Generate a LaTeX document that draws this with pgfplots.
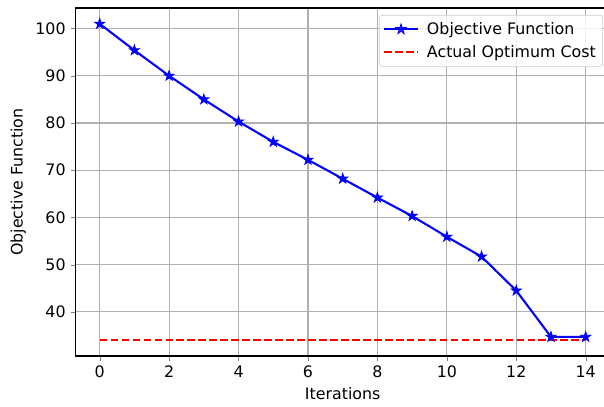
\documentclass[border=0pt]{standalone}
\usepackage{pgfplots}
\pgfplotsset{compat=1.18}
\usepackage{fontspec}
\setmainfont{DejaVu Sans}
\pgfdeclareplotmark{fstar}{%
  \pgfpathmoveto{\pgfpointpolar{90}{\pgfplotmarksize}}%
  \pgfpathlineto{\pgfpointpolar{126}{0.382\pgfplotmarksize}}%
  \pgfpathlineto{\pgfpointpolar{162}{\pgfplotmarksize}}%
  \pgfpathlineto{\pgfpointpolar{198}{0.382\pgfplotmarksize}}%
  \pgfpathlineto{\pgfpointpolar{234}{\pgfplotmarksize}}%
  \pgfpathlineto{\pgfpointpolar{270}{0.382\pgfplotmarksize}}%
  \pgfpathlineto{\pgfpointpolar{306}{\pgfplotmarksize}}%
  \pgfpathlineto{\pgfpointpolar{342}{0.382\pgfplotmarksize}}%
  \pgfpathlineto{\pgfpointpolar{18}{\pgfplotmarksize}}%
  \pgfpathlineto{\pgfpointpolar{54}{0.382\pgfplotmarksize}}%
  \pgfpathclose
  \pgfusepathqfillstroke}
\begin{document}
\begin{tikzpicture}
\begin{axis}[
  scale only axis,
  width=385pt, height=250.6pt,
  xmin=-0.7, xmax=14.7,
  ymin=30.65, ymax=104.35,
  xtick={0,2,...,14},
  ytick={40,50,...,100},
  tick align=outside,
  xtick pos=bottom, ytick pos=left,
  major tick length=3.5pt,
  grid=major,
  grid style={line width=0.8pt, color=black!31},
  axis line style={line width=0.8pt},
  /pgf/number format/assume math mode=true,
  ticklabel style={font=\fontsize{11.4}{13}\selectfont},
  label style={font=\fontsize{11.4}{13}\selectfont},
  xlabel={Iterations},
  ylabel={Objective Function},
  legend style={at={(1,1)}, anchor=north east, xshift=-5pt, yshift=-5pt,
    font=\fontsize{11.4}{13}\selectfont, draw=black!20, fill=white, fill opacity=0.8, text opacity=1,
    rounded corners=2pt, inner xsep=3pt, inner ysep=3pt, row sep=2.5pt, column sep=4pt},
  legend cell align=left,
  legend image code/.code={\draw[mark repeat=2,mark phase=2] plot coordinates {(0cm,0cm) (0.42cm,0cm) (0.84cm,0cm)};},
]
\coordinate (A) at (rel axis cs:0,0);
\coordinate (B) at (rel axis cs:1,1);
\addplot[blue, line width=1.5pt, mark=fstar, mark size=3.8pt, mark options={line width=0.6pt, solid}]
coordinates {(0,101.0) (1,95.4) (2,90.0) (3,85.0) (4,80.3) (5,76.0) (6,72.2) (7,68.2) (8,64.2) (9,60.3) (10,55.9) (11,51.7) (12,44.5) (13,34.7) (14,34.7)};
\addlegendentry{Objective Function}
\addplot[red, line width=1.5pt, dash pattern=on 5.5pt off 2.4pt]
coordinates {(0,34.05) (14,34.05)};
\addlegendentry{Actual Optimum Cost}
\end{axis}
\pgfresetboundingbox
\path ([xshift=-54.3pt,yshift=-36pt]A) rectangle ([xshift=-4.3pt,yshift=5.8pt]B);
\end{tikzpicture}
\end{document}
